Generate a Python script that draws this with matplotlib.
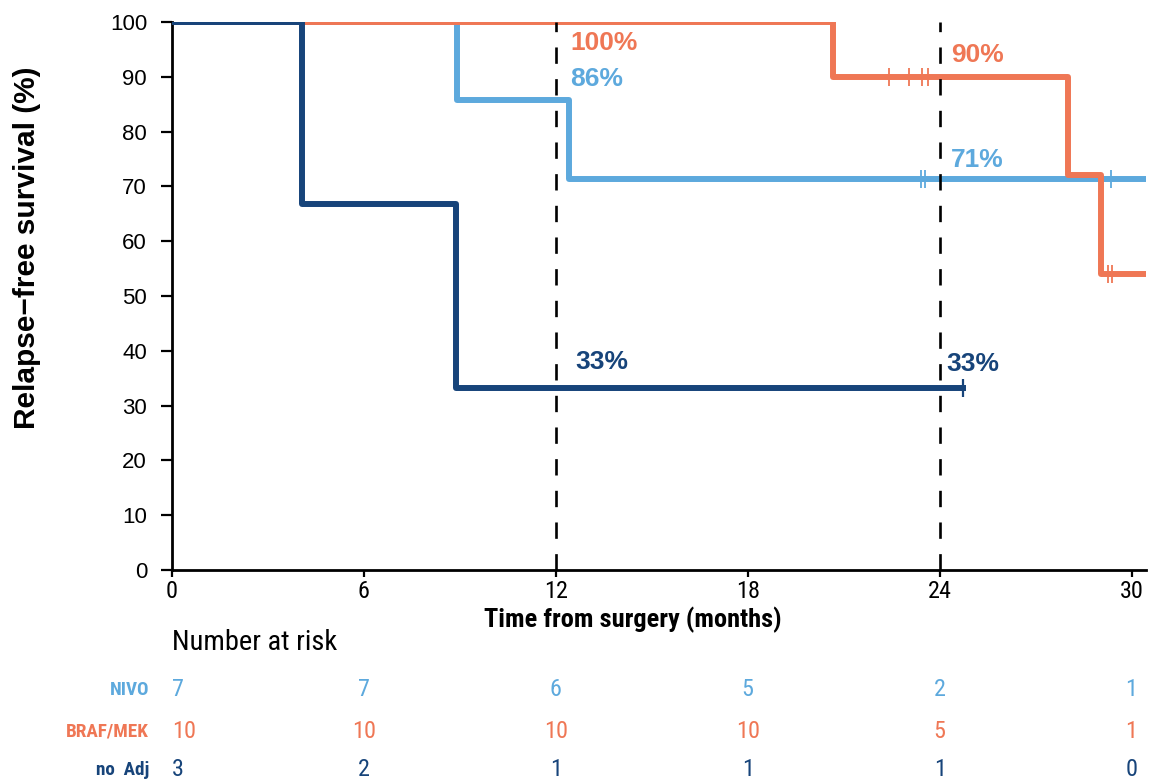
import matplotlib
matplotlib.use("Agg")
import matplotlib.pyplot as plt
import matplotlib.transforms as mtransforms

plt.rcParams['font.family'] = ['Liberation Sans', 'DejaVu Sans']
NARROW = ['Roboto Condensed', 'Liberation Sans', 'DejaVu Sans']

# couleurs
c_nivo = '#5DA9DD'
c_braf = '#EF7755'
c_noadj = '#17447A'

# courbes (temps en mois, survie en %)
nivo_t = [0, 8.9, 12.4, 30.45]
nivo_s = [100, 85.7, 71.4, 71.4]
nivo_cens_t = [23.43, 23.53, 29.35]
nivo_cens_s = [71.4, 71.4, 71.4]

braf_t = [0, 20.65, 28.0, 29.05, 30.45]
braf_s = [100, 90, 72, 54, 54]
braf_cens_t = [22.4, 23.05, 23.45, 23.65, 29.27, 29.4]
braf_cens_s = [90, 90, 90, 90, 54, 54]

noadj_t = [0, 4.05, 8.88, 24.72]
noadj_s = [100, 66.7, 33.3, 33.3]
noadj_cens_t = [24.72]
noadj_cens_s = [33.3]

# tableau "number at risk"
risk_times = [0, 6, 12, 18, 24, 30]
risk_groups = ['NIVO', 'BRAF/MEK', 'no  Adj']
risk_nivo = [7, 7, 6, 5, 2, 1]
risk_braf = [10, 10, 10, 10, 5, 1]
risk_noadj = [3, 2, 1, 1, 1, 0]

# annotations
lab_text = ['100%', '86%', '33%', '90%', '71%', '33%']
lab_x = [12.45, 12.45, 12.6, 24.35, 24.35, 24.2]
lab_y = [96.2, 89.6, 38.0, 94.0, 74.8, 37.6]

fig = plt.figure(figsize=(11.52, 7.83), dpi=100)
ax = fig.add_axes([172/1152, 1-570/783, (1146-172)/1152, (570-22)/783])

lw = 4.3
ax.step(nivo_t, nivo_s, where='post', color=c_nivo, lw=lw, zorder=2)
ax.step(braf_t, braf_s, where='post', color=c_braf, lw=lw, zorder=3)
ax.step(noadj_t, noadj_s, where='post', color=c_noadj, lw=lw, zorder=4)

ax.plot(nivo_cens_t, nivo_cens_s, ls='none', marker='|', ms=13, mew=1.3, color=c_nivo, zorder=2)
ax.plot(braf_cens_t, braf_cens_s, ls='none', marker='|', ms=13, mew=1.3, color=c_braf, zorder=3)
ax.plot(noadj_cens_t, noadj_cens_s, ls='none', marker='|', ms=13, mew=1.6, color=c_noadj, zorder=4)

# lignes pointillées à 12 et 24 mois
for xv in [12, 24]:
    ax.plot([xv, xv], [0, 100], color='black', lw=1.9, ls=(0, (6.2, 5.8)), zorder=5)

lab_cols = [c_braf, c_nivo, c_noadj, c_braf, c_nivo, c_noadj]
for t, x, y, c in zip(lab_text, lab_x, lab_y, lab_cols):
    ax.text(x, y, t, color=c, fontsize=19, fontweight='bold', ha='left', va='center')

ax.set_xlim(0, 30.45)
ax.set_ylim(0, 100)
ax.set_xticks([0, 6, 12, 18, 24, 30])
ax.set_yticks(range(0, 101, 10))
ax.spines['top'].set_visible(False)
ax.spines['right'].set_visible(False)
ax.spines['left'].set_linewidth(2.0)
ax.spines['bottom'].set_linewidth(2.0)
ax.tick_params(axis='y', labelsize=16, length=8, width=1.6, pad=10)
ax.tick_params(axis='x', labelsize=17.5, length=5, width=1.6, pad=2)
for lab in ax.get_xticklabels():
    lab.set_family(NARROW)

fig.text(633/1152, 1-620/783, 'Time from surgery (months)', ha='center', va='center',
         fontsize=19, fontweight='bold', family=NARROW)
fig.text(27/1152, 1-248/783, 'Relapse\u2212free survival (%)', rotation=90, ha='center', va='center',
         fontsize=21.5, fontweight='bold')

# tableau des effectifs
trans = mtransforms.blended_transform_factory(ax.transData, fig.transFigure)
fig.text(172/1152, 1-643/783, 'Number at risk', ha='left', va='center', fontsize=20.5, family=NARROW)
rows_y = [690, 731, 770]
rows = [risk_nivo, risk_braf, risk_noadj]
cols = [c_nivo, c_braf, c_noadj]
for name, vals, c, yp in zip(risk_groups, rows, cols, rows_y):
    fig.text(149/1152, 1-yp/783, name, ha='right', va='center', fontsize=13.8,
             fontweight='bold', color=c, family=NARROW)
    for t, v in zip(risk_times, vals):
        ha = 'left' if t == 0 else 'center'
        ax.text(t, 1-yp/783, str(v), transform=trans, ha=ha, va='center', fontsize=17.5,
                color=c, family=NARROW)

fig.savefig('out.png', dpi=100)
